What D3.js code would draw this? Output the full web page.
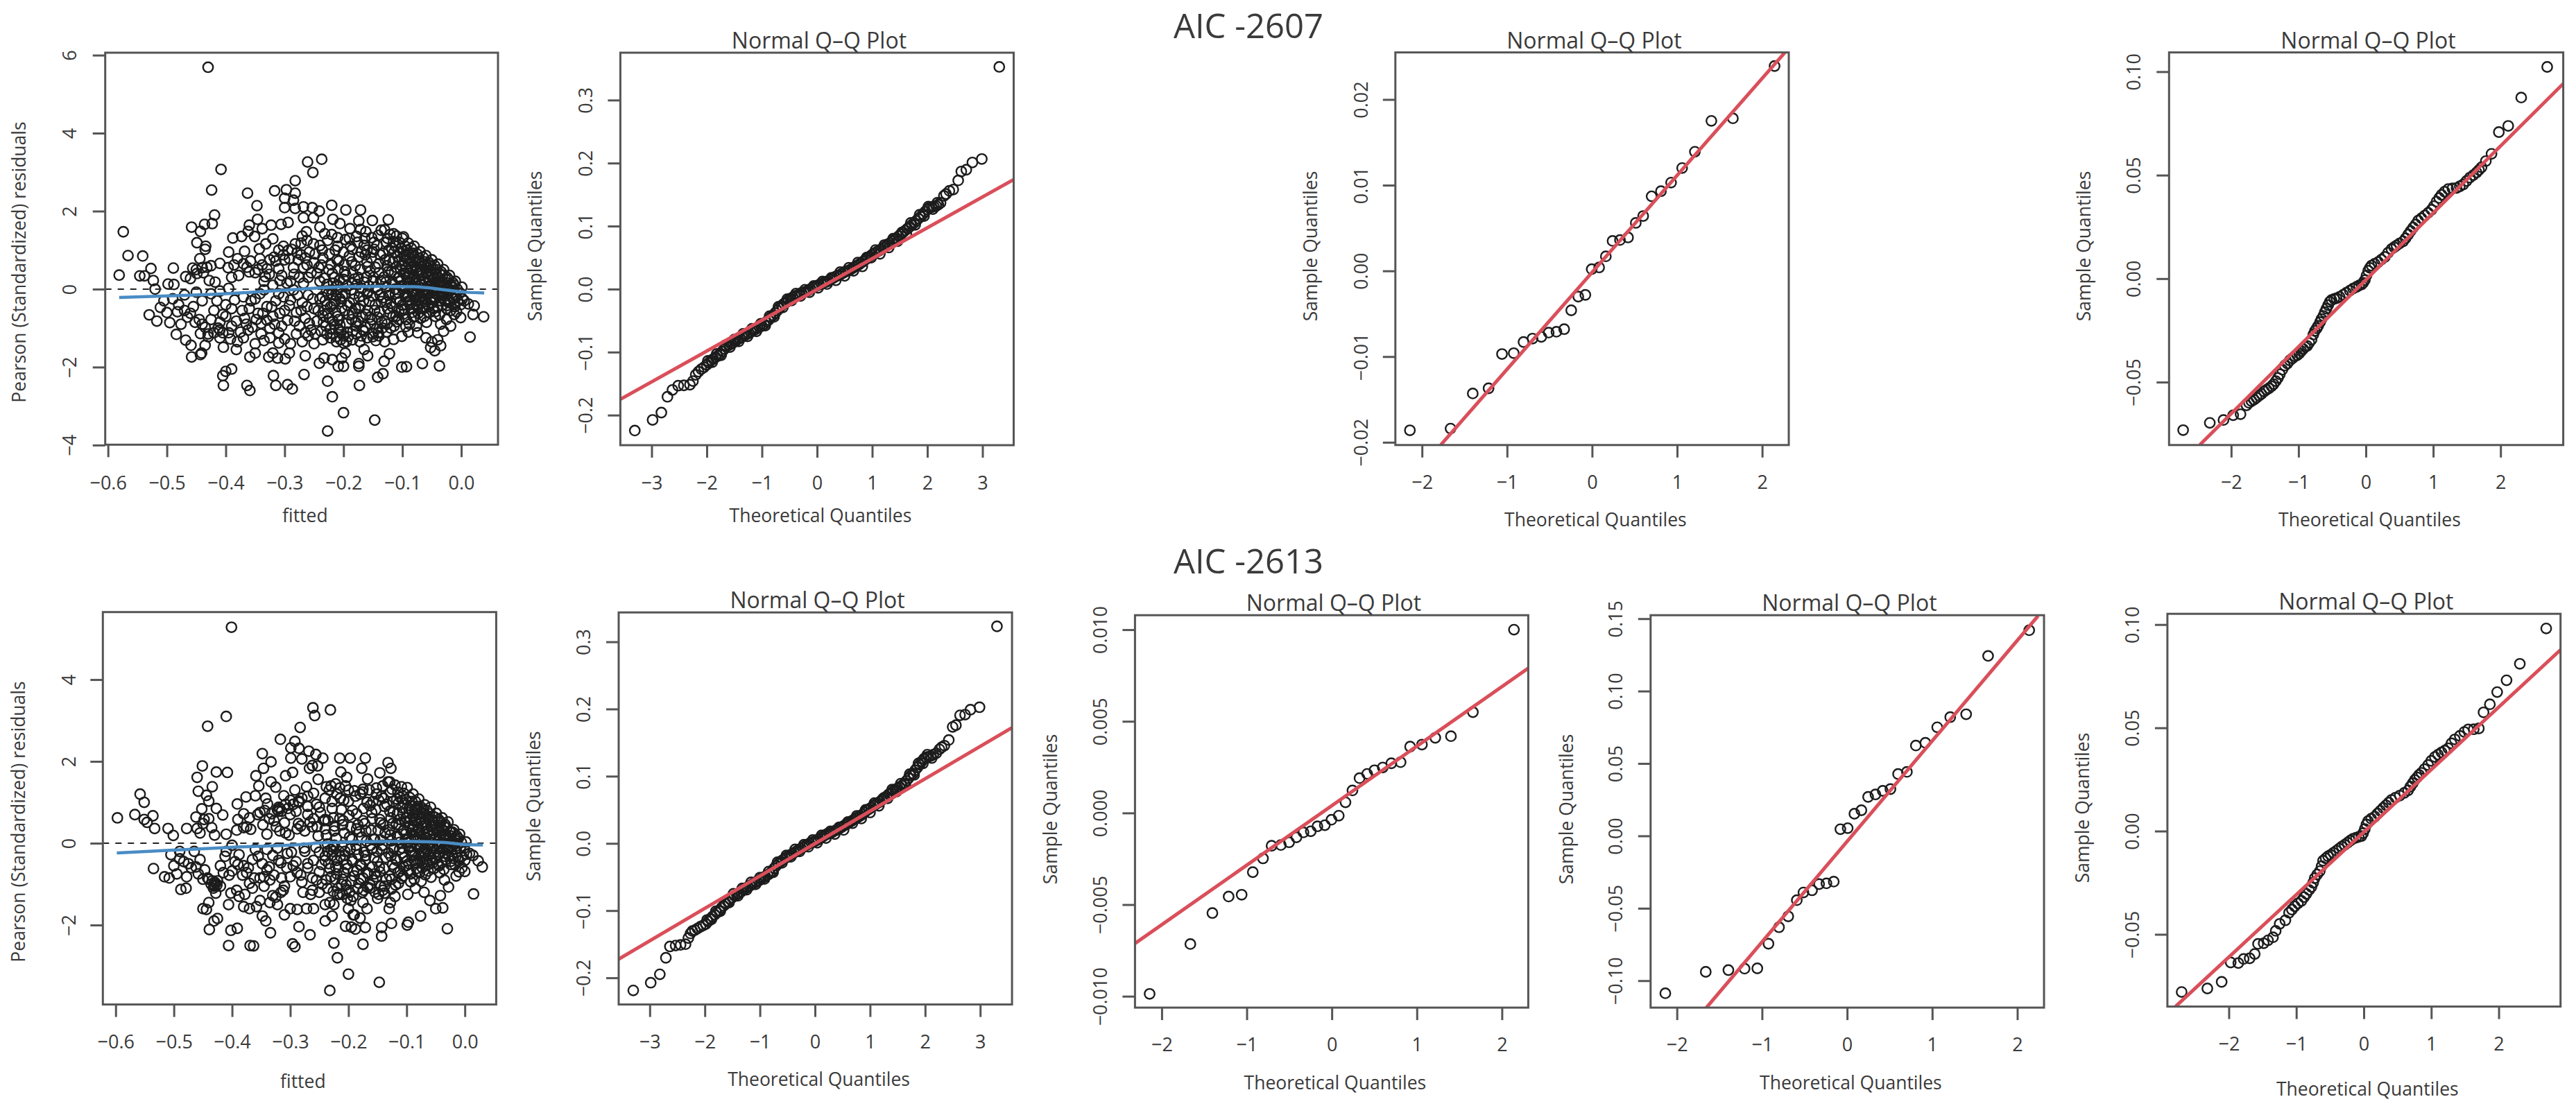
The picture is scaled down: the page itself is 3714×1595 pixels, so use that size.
<!DOCTYPE html>
<html>
<head>
<meta charset="utf-8">
<script src="https://cdn.jsdelivr.net/npm/d3@7"></script>
<style>
  body { margin: 0; background: #fff; }
  text { font-family: "Open Sans", sans-serif; fill: #3a3a3a; }
  .tick line, .domain { stroke: #555; }
</style>
</head>
<body>
<div id="chart"></div>
<script>
var residTop = [
-.43,5.69,-.237,3.33,-.261,3.26,-.252,2.99,-.408,3.07,-.282,2.78,-.424,2.54,-.317,2.52,-.297,2.55,-.282,2.46,-.363,2.46,-.3,2.33,-.285,2.28,-.347,2.14,-.3,2.09,-.282,2.07,-.268,2.11,-.253,2.09,-.241,2.0,-.22,2.15,-.196,2.03,-.171,2.03,-.419,1.9,-.346,1.79,-.268,1.83,-.251,1.83,-.218,1.79,-.174,1.75,-.151,1.76,-.124,1.78,-.458,1.59,-.436,1.66,-.423,1.68,-.36,1.64,-.323,1.64,-.306,1.66,-.294,1.71,-.574,1.47,-.443,1.48,-.362,1.48,-.338,1.55,-.24,1.59,-.206,1.68,-.189,1.55,-.171,1.53,-.162,1.47,-.136,1.51,-.263,1.47,-.388,1.31,-.373,1.35,-.351,1.35,-.32,1.29,-.27,1.36,-.449,1.19,-.434,1.10,-.332,1.16,-.282,1.16,-.251,1.16,-.227,1.25,-.197,1.27,-.115,1.42,-.098,1.34,-.435,1.02,-.395,.95,-.368,.97,-.343,1.03,-.294,.99,-.279,.93,-.258,.95,-.236,1.0,-.21,1.1,-.185,1.02,-.165,1.12,-.148,1.2,
-.566,.86,-.541,.85,-.581,.36,-.546,.34,-.538,.34,-.527,.53,-.523,.22,-.52,0,-.489,.54,-.498,.13,-.488,.12,-.468,.32,-.46,.27,-.456,.54,-.449,.4,-.444,.78,-.44,.55,-.432,.56,-.425,.6,-.418,.18,-.41,.66,-.396,.55,-.386,.62,-.38,.78,-.364,.56,-.36,.44,-.35,.42,-.345,.5,-.333,.32,-.33,.52,-.325,.75,-.315,.72,-.31,.52,-.3,.75,-.29,.2,-.285,.55,-.277,.75,-.265,.8,-.26,.3,-.25,.68,-.245,.4,-.235,.8,-.225,.5,-.215,.3,-.208,.72,-.198,.45,-.19,.85,-.18,.6,-.175,.3,-.17,.95,-.16,.7,-.155,.45,-.15,.95,-.14,.65,-.335,.2,-.32,.1,-.305,.35,-.296,.15,-.275,.3,-.268,.15,-.24,.2,-.228,.12,-.21,.1,-.2,.25,-.185,.15,-.165,.18,-.15,.2,
-.53,-.66,-.517,-.82,-.511,-.47,-.505,-.3,-.5,-.6,-.495,-.86,-.49,-.25,-.482,-.58,-.476,-.9,-.47,-.15,-.465,-.72,-.455,-.45,-.45,-.08,-.445,-.78,-.44,-.3,-.435,-.98,-.43,-1.15,-.425,-.12,-.42,-.55,-.413,-1.0,-.41,-.05,-.405,-.65,-.4,-.4,-.395,.02,-.39,-.95,-.385,-.28,-.375,-1.1,-.37,-.2,-.368,-.75,-.36,-.5,-.355,-.98,-.35,-.25,-.345,-.62,-.34,-.88,-.335,-.02,-.33,-.45,-.325,-1.0,-.32,-.7,-.315,-.3,-.31,-.12,-.305,-.95,-.3,-.55,-.295,-.8,-.29,-.28,-.285,-.02,-.28,-.6,-.275,-.95,-.27,-.35,-.265,-.75,-.26,-.15,-.255,-1.05,-.25,-.5,-.245,-.82,-.24,-.25,-.235,-.68,-.23,-.95,-.226,-.12,-.222,-.45,-.218,-1.15,-.214,-.3,-.21,-.7,-.206,-.92,-.202,-.18,-.198,-.55,-.194,-1.1,-.19,-.35,-.186,-.78,-.182,-.12,-.178,-.95,-.174,-.5,-.17,-1.2,-.166,-.3,-.162,-.65,-.158,-.05,-.154,-.9,-.15,-1.15,-.146,-.4,-.142,-.72,-.138,-.15,-.134,-1.0,-.22,-.02,-.212,-.18,-.204,-.32,-.228,-.4,-.236,-.2,-.232,-.55,-.224,-.75,-.216,-.9,-.208,-1.05,-.2,-1.2,
-.443,-1.14,-.43,-1.22,-.42,-1.12,-.41,-1.25,-.392,-1.28,-.38,-1.35,-.37,-1.25,-.35,-1.4,-.335,-1.32,-.31,-1.38,-.3,-1.28,-.29,-1.4,-.27,-1.35,-.26,-1.2,-.25,-1.4,-.235,-1.3,-.222,-1.25,-.212,-1.35,-.2,-1.38,-.185,-1.3,-.172,-1.35,-.16,-1.25,-.145,-1.32,-.13,-1.35,-.115,-1.29,-.101,-1.21,-.09,-1.1,-.074,-1.12,-.03,-1.08,-.06,-1.25,-.05,-1.35,-.04,-1.3,-.052,-1.5,-.045,-1.58,-.035,-1.45,
-.227,-3.64,-.147,-3.36,-.2,-3.17,-.219,-2.76,-.227,-2.36,-.173,-2.47,-.142,-2.26,-.133,-2.17,-.267,-2.19,-.287,-2.56,-.295,-2.45,-.315,-2.47,-.319,-2.22,-.359,-2.6,-.364,-2.47,-.404,-2.47,-.405,-2.22,-.4,-2.11,-.39,-2.05,-.174,-1.98,-.174,-1.91,-.101,-2.0,-.093,-1.99,-.066,-1.91,-.037,-1.97,-.2,-1.98,-.209,-1.98,-.241,-1.9,-.233,-1.77,-.219,-1.81,-.203,-1.77,-.265,-1.71,-.299,-1.79,-.312,-1.77,-.32,-1.64,-.327,-1.74,-.292,-1.64,-.359,-1.74,-.35,-1.64,-.441,-1.64,-.458,-1.74,-.443,-1.68,-.435,-1.44,-.459,-1.44,-.468,-1.31,-.484,-1.16,-.404,-1.49,-.382,-1.55,-.131,-1.85,-.122,-1.66,-.159,-1.71,-.165,-1.55,-.197,-1.64,
.015,-1.23,.038,-.71,.02,-.65,.022,-.43,-.001,-.73,-.018,-.95,.012,-.38,.005,-.3,-.008,-.58,-.025,-.78,-.035,-.9,-.012,-.65,
-.13,1.52,-.127,1.2,-.133,.92,-.126,.6,-.131,.31,-.128,.04,-.132,-.22,-.125,-.5,-.13,-.82,-.127,-1.1,-.121,1.4,-.118,1.05,-.122,.74,-.119,.44,-.117,.16,-.123,-.16,-.12,-.36,-.116,-.7,-.12,-1.0,-.11,1.36,-.112,1.1,-.108,.84,-.111,.56,-.107,.29,-.113,0,-.109,-.26,-.106,-.56,-.11,-.84,
-.1,1.3,-.102,1.04,-.097,.82,-.101,.6,-.096,.41,-.103,.2,-.099,0,-.095,-.2,-.1,-.41,-.098,-.64,-.094,-.96,-.09,1.18,-.092,1.0,-.087,.81,-.089,.66,-.086,.5,-.091,.31,-.088,.15,-.085,-.05,-.09,-.2,-.087,-.4,-.084,-.6,-.088,-.9,
-.08,1.1,-.082,.92,-.077,.75,-.079,.6,-.076,.46,-.081,.3,-.078,.14,-.075,0,-.08,-.16,-.077,-.3,-.074,-.46,-.079,-.7,-.076,-.95,-.07,.96,-.072,.8,-.067,.66,-.069,.5,-.066,.36,-.071,.2,-.068,.1,-.065,-.05,-.07,-.2,-.067,-.36,-.064,-.5,-.069,-.75,
-.06,.86,-.062,.7,-.057,.55,-.059,.41,-.056,.3,-.061,.15,-.058,0,-.055,-.11,-.06,-.25,-.057,-.4,-.054,-.6,-.059,-.85,-.05,.75,-.052,.61,-.047,.5,-.049,.35,-.046,.25,-.051,.1,-.048,-.05,-.045,-.2,-.05,-.35,-.047,-.5,-.044,-.7,
-.04,.64,-.042,.5,-.037,.4,-.039,.3,-.036,.16,-.041,0,-.038,-.15,-.035,-.3,-.04,-.45,-.037,-.66,-.03,.5,-.032,.36,-.027,.26,-.029,.1,-.026,0,-.031,-.15,-.028,-.3,-.025,-.5,-.02,.35,-.022,.25,-.017,.1,-.019,-.05,-.016,-.2,-.021,-.35,-.018,-.55,-.01,.2,-.012,.1,-.007,0,-.009,-.15,-.006,-.3,-.011,-.45,.001,.05,-.002,-.1,.002,-.25,-.001,-.4
];
// crowded middle of the top scatter
var residTopDense = [
-.238,.62,-.233,.28,-.229,-.05,-.231,-.3,-.226,-.62,-.234,-.85,-.224,.9,-.221,.62,-.219,.4,-.217,.15,-.22,-.14,-.216,-.38,-.213,-.6,-.218,-.82,-.222,-1.02,-.214,1.0,-.211,.75,-.209,.52,-.207,.22,-.21,-.02,-.206,-.25,-.203,-.48,-.208,-.78,-.204,-1.1,-.2,.95,-.199,.62,-.196,.36,-.194,.08,-.197,-.12,-.193,-.42,-.191,-.66,-.195,-.88,-.192,-1.22,-.188,1.1,-.186,.7,-.184,.42,-.181,.26,-.187,-.02,-.183,-.26,-.18,-.5,-.185,-.62,-.179,-.85,-.184,-1.08,-.176,1.2,-.174,.82,-.172,.5,-.177,.12,-.169,.02,-.173,-.2,-.171,-.42,-.168,-.7,-.175,-.82,-.167,-1.05,-.164,1.3,-.163,.88,-.159,.58,-.161,.3,-.157,.08,-.16,-.12,-.156,-.32,-.159,-.55,-.155,-.72,-.163,-.98,-.152,1.32,-.148,1.02,-.153,.8,-.146,.56,-.149,.3,-.145,.05,-.151,-.18,-.147,-.55,-.152,-.78,-.144,-1.02,-.141,1.38,-.143,1.12,-.138,.88,-.14,.42,-.137,.22,-.142,-.02,-.136,-.32,-.139,-.58,-.135,-.85,-.141,-1.12,
-.125,1.3,-.123,1.0,-.129,.75,-.124,.45,-.128,.18,-.122,-.08,-.127,-.34,-.121,-.62,-.126,-.9,-.115,1.22,-.114,.95,-.116,.7,-.113,.42,-.115,.12,-.112,-.12,-.117,-.45,-.111,-.7,-.114,-.95,-.105,1.2,-.104,.95,-.106,.7,-.103,.5,-.105,.3,-.102,.08,-.107,-.1,-.104,-.32,-.101,-.52,-.106,-.78,-.095,1.1,-.094,.9,-.096,.72,-.093,.55,-.095,.38,-.092,.22,-.097,.08,-.094,-.12,-.091,-.32,-.096,-.52,-.093,-.78,-.085,1.05,-.083,.88,-.086,.7,-.084,.56,-.087,.4,-.083,.25,-.085,.08,-.082,-.1,-.086,-.28,-.083,-.5,-.081,-.72,-.075,.9,-.073,.72,-.076,.56,-.074,.4,-.077,.24,-.073,.06,-.075,-.1,-.072,-.26,-.076,-.42,-.073,-.62,-.065,.82,-.063,.6,-.066,.44,-.064,.28,-.067,.12,-.063,-.03,-.065,-.16,-.062,-.32,-.066,-.48,-.063,-.7,-.055,.68,-.053,.48,-.056,.38,-.054,.22,-.052,.06,-.056,-.08,-.053,-.26,-.055,-.45,-.045,.6,-.043,.42,-.046,.3,-.044,.16,-.047,.02,-.043,-.12,-.046,-.28,-.044,-.58,-.034,.44,-.033,.2,-.035,.06,-.032,-.08,-.034,-.22,-.033,-.42,-.024,.3,-.025,.16,-.023,.02,-.024,-.12,-.022,-.28,-.024,-.42,-.014,.16,-.015,.04,-.013,-.08,-.014,-.24,-.012,-.38,
-.48,-.4,-.47,-.55,-.46,-.62,-.452,-.85,-.44,-.9,-.425,-.78,-.415,-.3,-.41,-.85,-.4,-.7,-.39,-.5,-.382,-.82,-.372,-.55,-.365,-.9,-.357,-.3,-.348,-.78,-.342,-.12,-.337,-.62,-.33,-.8,-.322,-.45,-.317,-.9,-.308,-.62,-.302,-.2,-.292,-.42,-.283,-.82,-.278,-.15,-.272,-.55,-.262,-.45,-.258,-.88,-.252,-.25,-.243,-.55,-.45,.5,-.438,.42,-.428,.22,-.39,.3,-.378,.35,-.37,.65,-.358,.72,-.342,.78,-.338,.62,-.326,.38,-.318,.82,-.308,.22,-.302,.88,-.292,.78,-.284,.38,-.272,.88,-.268,.55,-.255,.42,-.248,.9,-.242,.55,-.262,.62,-.31,1.0,-.302,1.1,-.288,1.02,-.272,1.18,-.262,1.25,-.24,1.12,-.232,1.42,-.22,1.4,-.21,1.32,-.19,1.3,-.178,1.35,-.16,1.0,-.28,-1.15,-.265,-1.12,-.248,-1.15,-.238,-1.08,-.228,-1.15,-.212,-1.22,-.205,-1.3,-.195,-1.35,-.178,-1.15,-.165,-1.08,-.15,-1.22,-.14,-1.2,-.34,-1.15,-.325,-1.25,-.31,-1.12,-.395,-1.12,-.405,-1.12,-.362,-1.05,-.41,-1.05
];
var smoothTop = [-.581,-.215,-.49,-.17,-.402,-.12,-.303,-.034,-.227,.043,-.139,.07,-.08,.06,-.028,-.017,0,-.07,.039,-.1];

// residual scatter, bottom row
var residBot = [
-.401,5.28,-.261,3.31,-.231,3.26,-.258,3.12,-.41,3.1,-.442,2.86,-.283,2.83,-.317,2.54,-.292,2.49,-.299,2.33,-.285,2.32,-.348,2.19,-.268,2.25,-.256,2.17,-.333,1.99,-.299,2.08,-.28,2.06,-.244,2.08,-.215,2.08,-.197,2.08,-.171,2.08,-.451,1.89,-.262,1.9,-.253,1.89,-.132,1.97,-.346,1.83,-.267,1.83,-.177,1.83,-.127,1.83,-.427,1.74,-.408,1.73,-.296,1.73,-.213,1.74,-.146,1.72,-.46,1.61,-.359,1.65,-.308,1.65,-.203,1.61,-.167,1.57,-.333,1.5,-.252,1.56,-.129,1.5,-.354,1.4,-.325,1.37,-.434,1.38,-.272,1.38,-.238,1.38,-.458,1.27,-.558,1.2,-.444,1.17,-.376,1.13,-.36,1.16,-.342,1.1,-.311,1.16,-.292,1.3,-.551,1.0,-.44,1.03,-.391,.96,-.339,.96,-.286,1.03,-.597,.62,-.567,.7,-.551,.58,-.546,.51,-.536,.67,-.533,.36,-.51,.36,-.501,.19,-.478,.36,-.452,.84,-.427,.85,-.416,.69,-.462,.64,
-.46,.36,-.455,.25,-.448,.58,-.44,.6,-.435,.38,-.41,.22,-.39,.58,-.38,.72,-.375,.4,-.368,.34,-.352,.75,-.347,.45,-.34,.22,-.332,.72,-.32,.88,-.315,.78,-.31,.5,-.3,.7,-.295,.95,-.288,.35,-.28,1.1,-.27,.7,-.262,.4,-.255,.95,-.248,.75,-.24,.35,-.233,1.3,-.228,.85,-.22,1.2,-.215,.6,-.208,1.05,-.2,1.3,-.193,.8,-.186,.35,-.18,1.2,-.175,.55,-.168,1.0,-.16,.75,-.152,1.2,-.145,.5,-.14,1.1,-.328,.55,-.318,.3,-.302,.2,-.275,.3,-.252,.18,-.235,.55,-.225,.3,-.21,.45,-.198,.15,-.17,.3,-.155,.1,
-.535,-.62,-.516,-.82,-.508,-.85,-.505,-.28,-.5,-.55,-.495,-.75,-.49,-.2,-.483,-.45,-.478,-.82,-.488,-1.13,-.479,-1.1,-.47,-.6,-.465,-.2,-.458,-.75,-.455,-.4,-.447,-.65,-.44,-.88,-.436,-1.0,-.43,-1.02,-.425,-.92,-.432,-1.1,-.428,-1.22,-.42,-.55,-.415,-.72,-.405,-.78,-.41,-.2,-.4,-.05,-.395,-.45,-.388,-.28,-.38,-.55,-.375,-.72,-.37,-.98,-.365,-.4,-.36,-.15,-.352,-.85,-.348,-.5,-.34,-.65,-.335,-.9,-.33,-.3,-.322,-.12,-.316,-.48,-.31,-1.05,-.305,-.25,-.3,-.82,-.295,-.55,-.288,-.72,-.28,-.95,-.275,-.2,-.27,-.5,-.262,-.85,-.256,-.1,-.25,-.7,-.245,-1.0,-.24,-.42,-.236,-.2,-.23,-.82,-.226,-.1,-.222,-.58,-.218,-1.1,-.214,-.32,-.21,-.88,-.206,-.2,-.202,-.62,-.198,-1.2,-.194,-.4,-.19,-.8,-.186,-.15,-.182,-.98,-.178,-.55,-.174,-1.15,-.17,-.3,-.166,-.75,-.162,-.05,-.158,-.9,-.154,-1.2,-.15,-.45,-.146,-.7,-.142,-.15,-.138,-1.05,-.228,-.3,-.234,-.5,-.23,-.15,-.224,-.05,-.216,-.2,-.208,-.4,-.22,-.75,-.212,-1.0,-.204,-1.15,
-.44,-1.45,-.45,-1.6,-.444,-1.62,-.42,-1.05,-.406,-1.5,-.402,-1.22,-.388,-1.3,-.378,-1.25,-.38,-1.55,-.37,-1.6,-.358,-1.55,-.352,-1.4,-.348,-1.78,-.342,-1.9,-.335,-1.45,-.322,-1.5,-.316,-1.2,-.31,-1.75,-.3,-1.6,-.288,-1.62,-.272,-1.6,-.265,-1.25,-.26,-1.6,-.24,-1.5,-.232,-1.45,-.225,-1.5,-.215,-1.25,-.2,-1.6,-.19,-1.75,-.175,-1.45,-.168,-1.6,-.15,-1.35,-.13,-1.6,-.128,-1.45,-.12,-1.3,-.098,-1.25,-.085,-1.1,-.07,-1.2,-.06,-1.4,-.05,-1.6,-.042,-1.28,-.038,-1.58,
-.232,-3.6,-.147,-3.4,-.2,-3.2,-.219,-2.8,-.225,-2.44,-.175,-2.47,-.143,-2.27,-.143,-2.06,-.296,-2.46,-.292,-2.53,-.369,-2.5,-.363,-2.51,-.406,-2.5,-.402,-2.13,-.391,-2.08,-.439,-2.11,-.431,-1.9,-.425,-1.84,-.334,-2.19,-.285,-2.04,-.266,-2.24,-.171,-2.06,-.126,-1.96,-.099,-2.0,-.097,-1.93,-.076,-1.78,-.03,-2.09,-.205,-2.03,-.195,-2.05,-.188,-2.1,-.24,-1.9,-.228,-1.78,-.18,-1.83,-.192,-1.75,
.015,-1.24,0,-.69,.03,-.58,.023,-.43,.014,-.3,-.028,-1.07,.008,-.25,-.005,-.6,-.015,-.8,-.035,-.9,-.01,-.7,
-.132,1.5,-.128,1.25,-.134,.95,-.127,.62,-.13,.33,-.126,.06,-.131,-.24,-.124,-.52,-.129,-.8,-.126,-1.12,-.12,1.42,-.117,1.08,-.123,.76,-.118,.46,-.116,.18,-.122,-.14,-.119,-.38,-.115,-.72,-.119,-1.02,-.109,1.38,-.111,1.12,-.107,.86,-.112,.58,-.106,.3,-.112,.02,-.108,-.24,-.105,-.58,-.109,-.86,
-.099,1.36,-.101,1.06,-.096,.84,-.1,.62,-.095,.42,-.102,.22,-.098,.02,-.094,-.18,-.099,-.43,-.097,-.66,-.093,-.94,-.089,1.2,-.091,1.02,-.086,.83,-.088,.68,-.085,.52,-.09,.33,-.087,.17,-.084,-.03,-.089,-.22,-.086,-.42,-.083,-.62,-.087,-.88,
-.079,1.08,-.081,.9,-.076,.76,-.078,.62,-.075,.48,-.08,.32,-.077,.16,-.074,.02,-.079,-.14,-.076,-.32,-.073,-.48,-.078,-.72,-.075,-.93,-.069,.94,-.071,.82,-.066,.68,-.068,.52,-.065,.38,-.07,.22,-.067,.12,-.064,-.03,-.069,-.22,-.066,-.38,-.063,-.52,-.068,-.77,
-.059,.88,-.061,.72,-.056,.57,-.058,.43,-.055,.32,-.06,.17,-.057,.02,-.054,-.13,-.059,-.27,-.056,-.42,-.053,-.62,-.058,-.83,-.049,.73,-.051,.63,-.046,.52,-.048,.37,-.045,.27,-.05,.12,-.047,-.03,-.044,-.22,-.049,-.37,-.046,-.52,-.043,-.72,
-.039,.62,-.041,.52,-.036,.42,-.038,.32,-.035,.18,-.04,.02,-.037,-.13,-.034,-.32,-.039,-.47,-.036,-.64,-.029,.52,-.031,.38,-.026,.28,-.028,.12,-.025,.02,-.03,-.13,-.027,-.32,-.024,-.52,-.019,.33,-.021,.27,-.016,.12,-.018,-.03,-.015,-.22,-.02,-.37,-.017,-.53,-.009,.22,-.011,.12,-.006,.02,-.008,-.13,-.005,-.32,-.01,-.43,.002,.03,-.001,-.12,.003,-.27,0,-.42
];
// crowded middle of the bottom scatter
var residBotDense = [
-.242,.55,-.238,.2,-.236,-.02,-.24,-.32,-.232,-.62,-.238,-.9,-.228,1.02,-.226,.62,-.224,.42,-.221,.12,-.226,-.2,-.22,-.42,-.217,-.6,-.223,-.88,-.219,-1.25,-.214,1.1,-.212,.82,-.209,.55,-.207,.25,-.211,-.06,-.206,-.3,-.203,-.52,-.208,-.72,-.204,-1.02,-.2,1.02,-.199,.68,-.196,.4,-.194,.1,-.197,-.14,-.193,-.45,-.191,-.68,-.195,-.92,-.192,-1.3,-.188,1.15,-.186,.72,-.184,.45,-.181,.28,-.187,-.05,-.183,-.28,-.18,-.52,-.185,-.66,-.179,-.88,-.184,-1.12,-.176,1.25,-.174,.85,-.172,.48,-.177,.15,-.169,.05,-.173,-.22,-.171,-.4,-.168,-.72,-.175,-.85,-.167,-1.08,-.164,1.3,-.163,.92,-.159,.6,-.161,.32,-.157,.1,-.16,-.15,-.156,-.35,-.159,-.58,-.155,-.75,-.163,-1.02,-.152,1.35,-.148,1.05,-.153,.82,-.146,.58,-.149,.32,-.145,.08,-.151,-.2,-.147,-.58,-.152,-.82,-.144,-1.05,-.141,1.4,-.143,1.15,-.138,.9,-.14,.45,-.137,.25,-.142,-.05,-.136,-.35,-.139,-.62,-.135,-.88,-.141,-1.15,
-.125,1.32,-.123,1.02,-.129,.78,-.124,.48,-.128,.2,-.122,-.1,-.127,-.32,-.121,-.6,-.126,-.88,-.115,1.25,-.114,.98,-.116,.72,-.113,.45,-.115,.15,-.112,-.15,-.117,-.42,-.111,-.68,-.114,-.98,-.105,1.22,-.104,.98,-.106,.72,-.103,.52,-.105,.32,-.102,.1,-.107,-.12,-.104,-.35,-.101,-.55,-.106,-.8,-.095,1.12,-.094,.92,-.096,.75,-.093,.58,-.095,.4,-.092,.25,-.097,.1,-.094,-.1,-.091,-.3,-.096,-.5,-.093,-.75,-.085,1.02,-.083,.85,-.086,.72,-.084,.58,-.087,.42,-.083,.28,-.085,.1,-.082,-.08,-.086,-.3,-.083,-.48,-.081,-.7,-.075,.88,-.073,.74,-.076,.58,-.074,.42,-.077,.26,-.073,.08,-.075,-.08,-.072,-.24,-.076,-.44,-.073,-.6,-.065,.8,-.063,.62,-.066,.46,-.064,.3,-.067,.14,-.063,-.05,-.065,-.18,-.062,-.3,-.066,-.46,-.063,-.68,-.055,.66,-.053,.5,-.056,.4,-.054,.24,-.052,.08,-.056,-.1,-.053,-.24,-.055,-.48,-.045,.58,-.043,.44,-.046,.32,-.044,.18,-.047,.04,-.043,-.1,-.046,-.3,-.044,-.55,-.034,.46,-.033,.22,-.035,.08,-.032,-.06,-.034,-.24,-.033,-.4,-.024,.28,-.025,.18,-.023,.04,-.024,-.1,-.022,-.3,-.024,-.44,-.014,.18,-.015,.06,-.013,-.06,-.014,-.22,-.012,-.36,
-.49,-.38,-.475,-.5,-.462,-.58,-.45,-.88,-.442,-.85,-.43,-.95,-.426,-1.02,-.434,-.92,-.428,-.98,-.431,-1.05,-.412,-.32,-.4,-.68,-.39,-.52,-.382,-.78,-.372,-.6,-.362,-.85,-.355,-.32,-.345,-.82,-.34,-.15,-.336,-.58,-.328,-.78,-.32,-.42,-.315,-.85,-.306,-.6,-.298,-.22,-.29,-.45,-.282,-.78,-.276,-.12,-.27,-.6,-.26,-.42,-.255,-.9,-.25,-.22,-.246,-.52,-.45,.48,-.43,.2,-.392,.32,-.38,.38,-.37,.62,-.356,.7,-.344,.8,-.336,.6,-.324,.4,-.32,.78,-.322,.82,-.318,.85,-.308,.25,-.304,.85,-.29,.78,-.282,.42,-.286,.48,-.27,.9,-.266,.52,-.254,.4,-.25,.88,-.24,.58,-.26,.6,-.308,.95,-.3,1.05,-.285,1.0,-.27,1.15,-.26,1.22,-.24,1.1,-.23,1.4,-.222,1.45,-.215,1.35,-.205,1.4,-.19,1.28,-.175,1.32,-.158,1.02,-.278,-1.2,-.262,-1.15,-.25,-1.2,-.236,-1.1,-.226,-1.18,-.21,-1.25,-.202,-1.35,-.196,-1.4,-.176,-1.2,-.163,-1.1,-.148,-1.25,-.138,-1.22,-.33,-1.28,-.325,-1.32,-.312,-1.15,-.392,-1.15,-.345,-1.05,-.365,-1.1
];
var smoothBot = [-.598,-.24,-.502,-.17,-.401,-.1,-.295,-.04,-.235,.017,-.146,.043,-.087,.043,-.034,.017,.002,-.034,.031,-.043];

// sample quantiles, long Q-Q plots
var qqTopB = [-3.305,-.2245,-2.982,-.2076,-2.823,-.196,-2.713,-.1709,-2.622,-.16,-2.518,-.1533,-2.415,-.1528,-2.305,-.1517,-2.25,-.146,-2.2,-.136,-2.15,-.131,-2.1,-.127,-2.05,-.124,-2,-.12,-1.96,-.117,-1.92,-.113,-1.88,-.111,-1.84,-.108,-1.8,-.106,-1.76,-.103,-1.72,-.099,-1.68,-.095,-1.64,-.091,-1.6,-.089,-1.56,-.087,-1.52,-.085,-1.48,-.083,-1.44,-.08,-1.4,-.078,-1.36,-.076,-1.32,-.074,-1.28,-.072,-1.24,-.07,-1.2,-.068,-1.16,-.066,-1.12,-.064,-1.08,-.062,-1.04,-.06,-1,-.0586,-.96,-.056,-.92,-.052,-.88,-.049,-.84,-.045,-.8,-.042,-.76,-.038,-.72,-.034,-.68,-.03,-.64,-.026,-.6,-.023,-.56,-.021,-.52,-.018,-.48,-.015,-.44,-.013,-.4,-.011,-.36,-.01,-.32,-.008,-.28,-.006,-.24,-.005,-.2,-.004,-.16,-.002,-.12,0,-.08,.002,-.04,.004,0,.0055,.04,.007,.08,.008,.12,.01,.16,.011,.2,.0126,.24,.015,.28,.017,.32,.019,.36,.021,.4,.022,.44,.024,.48,.026,.52,.028,.56,.029,.6,.0307,.64,.033,.68,.035,.72,.037,.76,.039,.8,.0416,.84,.044,.88,.047,.92,.05,.96,.052,1,.0548,1.04,.057,1.08,.059,1.12,.061,1.16,.063,1.2,.0657,1.24,.068,1.28,.071,1.32,.073,1.36,.076,1.4,.0783,1.44,.081,1.48,.084,1.52,.087,1.56,.09,1.6,.0931,1.64,.096,1.68,.099,1.72,.102,1.76,.105,1.8,.1084,1.84,.112,1.88,.115,1.92,.119,1.96,.123,2,.1265,2.04,.129,2.08,.13,2.12,.131,2.16,.132,2.2,.134,2.24,.137,2.3,.148,2.34,.151,2.4,.156,2.47,.158,2.56,.1725,2.616,.1867,2.707,.1895,2.817,.201,2.988,.2065,3.305,.3527,
-1.98,-.114,-1.9,-.116,-1.82,-.103,-1.74,-.105,-1.66,-.089,-1.58,-.092,-1.5,-.08,-1.42,-.083,-1.34,-.071,-1.26,-.075,-1.18,-.063,-1.1,-.067,-1.02,-.055,-.94,-.058,-.86,-.043,-.78,-.044,-.7,-.028,-.62,-.029,-.54,-.016,-.46,-.018,-.38,-.007,-.3,-.011,-.22,-.001,-.14,-.005,-.06,.005,.02,.002,.1,.012,.18,.008,.26,.018,.34,.014,.42,.027,.5,.021,.58,.034,.66,.029,.74,.042,.82,.036,.9,.05,.98,.05,1.06,.062,1.14,.056,1.22,.07,1.3,.066,1.38,.08,1.46,.076,1.54,.09,1.62,.087,1.7,.105,1.78,.102,1.86,.118,1.94,.116,2.02,.131,2.1,.127,2.18,.137];
var qqBotB = [-3.299,-.2188,-2.982,-.2073,-2.817,-.1948,-2.707,-.1702,-2.634,-.1534,-2.53,-.152,-2.44,-.151,-2.35,-.15,-2.299,-.1408,-2.26,-.134,-2.226,-.1304,-2.18,-.129,-2.134,-.1267,-2.08,-.124,-2.03,-.122,-1.982,-.1199,-1.94,-.116,-1.9,-.112,-1.86,-.109,-1.82,-.106,-1.78,-.103,-1.74,-.1,-1.7,-.096,-1.66,-.093,-1.62,-.09,-1.58,-.087,-1.54,-.083,-1.5,-.0806,-1.46,-.078,-1.42,-.076,-1.38,-.074,-1.34,-.072,-1.3,-.069,-1.26,-.067,-1.22,-.065,-1.18,-.063,-1.14,-.061,-1.1,-.059,-1.06,-.057,-1.02,-.0555,-.98,-.053,-.94,-.051,-.9,-.049,-.86,-.047,-.82,-.045,-.78,-.042,-.74,-.037,-.7,-.033,-.66,-.03,-.62,-.027,-.58,-.0245,-.54,-.022,-.5,-.02,-.46,-.018,-.42,-.016,-.38,-.014,-.34,-.012,-.3,-.01,-.26,-.008,-.22,-.006,-.18,-.004,-.14,-.002,-.1,0,-.06,.0015,-.02,.0025,.02,.004,.06,.006,.1,.008,.14,.01,.18,.012,.22,.014,.26,.015,.3,.016,.34,.018,.38,.0195,.42,.021,.46,.023,.5,.025,.54,.027,.58,.029,.62,.031,.66,.033,.7,.035,.74,.037,.78,.039,.82,.041,.86,.043,.9,.046,.94,.049,.98,.051,1.02,.053,1.06,.056,1.1,.058,1.14,.06,1.18,.062,1.22,.065,1.26,.068,1.3,.07,1.34,.073,1.38,.075,1.42,.078,1.46,.08,1.5,.082,1.54,.084,1.58,.086,1.62,.089,1.66,.093,1.7,.097,1.74,.101,1.78,.104,1.82,.109,1.86,.113,1.9,.117,1.94,.122,1.98,.126,2.02,.128,2.06,.129,2.1,.13,2.15,.132,2.2,.134,2.26,.14,2.3,.143,2.35,.1455,2.43,.1539,2.5,.1733,2.56,.176,2.634,.1906,2.726,.1916,2.823,.199,2.988,.2026,3.305,.323,
-1.96,-.114,-1.88,-.113,-1.8,-.101,-1.72,-.101,-1.64,-.088,-1.56,-.088,-1.48,-.075,-1.4,-.078,-1.32,-.067,-1.24,-.069,-1.16,-.058,-1.08,-.061,-1,-.051,-.92,-.053,-.84,-.042,-.76,-.043,-.68,-.028,-.6,-.029,-.52,-.018,-.44,-.02,-.36,-.009,-.28,-.012,-.2,-.002,-.12,-.005,-.04,.005,.04,.001,.12,.012,.2,.008,.28,.018,.36,.014,.44,.024,.52,.02,.6,.032,.68,.03,.76,.041,.84,.037,.92,.05,1,.046,1.08,.06,1.16,.056,1.24,.067,1.32,.067,1.4,.08,1.48,.077,1.56,.089,1.64,.087,1.72,.103,1.8,.102,1.88,.119,1.96,.119,2.04,.132,2.12,.127];

// short Q-Q plots
var qqTopC = [-2.142,-.0186,-1.664,-.0184,-1.403,-.0143,-1.217,-.0137,-1.059,-.0097,-.921,-.0096,-.806,-.0083,-.7,-.0079,-.597,-.0077,-.51,-.0072,-.419,-.0071,-.328,-.0068,-.245,-.0046,-.162,-.003,-.079,-.0028,-.004,.0002,.083,.0004,.162,.0017,.241,.0035,.328,.0036,.423,.0039,.514,.0056,.601,.0064,.7,.0087,.81,.0093,.929,.0103,1.059,.012,1.209,.0139,1.403,.0175,1.656,.0178,2.146,.0239];
var qqBotC = [-2.142,-.00987,-1.663,-.00715,-1.404,-.00546,-1.213,-.00456,-1.06,-.00446,-.929,-.00323,-.809,-.00248,-.708,-.00179,-.599,-.00175,-.502,-.0016,-.416,-.00133,-.333,-.00106,-.247,-.001,-.169,-.00073,-.082,-.00067,-.004,-.00037,.082,-.00015,.161,.00058,.243,.00123,.326,.0019,.416,.00213,.502,.00233,.599,.00248,.7,.00271,.809,.00277,.921,.00362,1.06,.00373,1.217,.0041,1.401,.00419,1.659,.0055,2.142,.01];
var qqBotD = [-2.136,-.1087,-1.661,-.0939,-1.395,-.0927,-1.205,-.0917,-1.055,-.0915,-.924,-.0745,-.8,-.0631,-.692,-.0556,-.591,-.0444,-.513,-.0391,-.412,-.0376,-.329,-.0333,-.243,-.0328,-.157,-.0316,-.079,.0046,.007,.0053,.086,.0153,.168,.0177,.247,.0269,.333,.0286,.419,.0311,.509,.0323,.599,.0427,.703,.0442,.808,.0624,.92,.0643,1.059,.075,1.212,.082,1.399,.084,1.657,.1243,2.14,.142];

// medium Q-Q plots
var qqTopD = [-2.713,-.0732,-2.317,-.0697,-2.114,-.0683,-1.97,-.066,-1.861,-.0655,-1.772,-.0612,-1.735,-.06,-1.698,-.0592,-1.66,-.0585,-1.624,-.0575,-1.585,-.0565,-1.55,-.0557,-1.51,-.0545,-1.475,-.0537,-1.44,-.053,-1.401,-.052,-1.37,-.051,-1.337,-.0495,-1.305,-.048,-1.277,-.0462,-1.24,-.044,-1.203,-.042,-1.165,-.041,-1.129,-.0395,-1.09,-.0385,-1.054,-.0375,-1.02,-.037,-.99,-.0362,-.96,-.035,-.931,-.034,-.9,-.033,-.871,-.0325,-.84,-.031,-.807,-.0295,-.78,-.027,-.757,-.0253,-.73,-.024,-.708,-.0228,-.68,-.021,-.658,-.0195,-.63,-.018,-.609,-.0162,-.585,-.0145,-.559,-.0128,-.535,-.0112,-.51,-.0103,-.47,-.0098,-.436,-.0095,-.39,-.0088,-.337,-.0078,-.29,-.0068,-.238,-.0058,-.19,-.0048,-.139,-.004,-.1,-.0033,-.064,-.0028,-.04,-.002,-.015,-.0007,.01,.0015,.035,.0038,.06,.0052,.084,.0063,.13,.0072,.183,.008,.23,.0092,.282,.0105,.33,.0125,.381,.0143,.42,.0152,.455,.016,.5,.017,.554,.018,.59,.0195,.629,.0213,.665,.023,.703,.0247,.74,.0262,.777,.028,.825,.0292,.876,.0305,.925,.0318,.975,.0333,1.01,.035,1.05,.0372,1.09,.039,1.124,.0405,1.17,.042,1.223,.0433,1.285,.0436,1.347,.0438,1.395,.0446,1.446,.0455,1.495,.0472,1.545,.0488,1.595,.05,1.644,.0513,1.68,.0525,1.718,.0538,1.782,.0568,1.866,.0603,1.975,.0708,2.114,.0738,2.307,.0875,2.693,.1023];
var qqBotE = [-2.699,-.0779,-2.318,-.0762,-2.106,-.073,-1.972,-.0636,-1.859,-.0639,-1.78,-.0619,-1.691,-.0616,-1.616,-.0595,-1.567,-.0546,-1.483,-.0543,-1.419,-.0529,-1.345,-.0514,-1.305,-.0483,-1.246,-.0449,-1.162,-.0432,-1.107,-.0395,-1.065,-.038,-1.023,-.0364,-.975,-.035,-.924,-.0338,-.885,-.032,-.85,-.0304,-.81,-.0285,-.776,-.027,-.75,-.025,-.727,-.0228,-.69,-.021,-.652,-.0194,-.625,-.017,-.603,-.0143,-.565,-.0132,-.529,-.0122,-.49,-.0115,-.45,-.0105,-.405,-.0095,-.365,-.0085,-.325,-.0075,-.282,-.0066,-.24,-.0056,-.2,-.0046,-.158,-.0037,-.115,-.0032,-.075,-.0028,-.035,-.0024,-.01,-.001,.015,.001,.04,.0032,.064,.0048,.11,.006,.163,.007,.205,.0085,.245,.0098,.287,.0112,.33,.0125,.37,.0138,.41,.0151,.47,.0162,.534,.0172,.6,.0185,.657,.0197,.69,.0215,.725,.0232,.756,.0248,.79,.026,.82,.0272,.855,.0282,.9,.03,.954,.032,1,.034,1.053,.0359,1.1,.037,1.152,.0381,1.2,.039,1.251,.0401,1.3,.0425,1.349,.0444,1.424,.0461,1.49,.048,1.547,.0492,1.63,.0493,1.705,.0497,1.775,.0575,1.869,.0614,1.977,.0673,2.116,.073,2.313,.081,2.704,.0981];

// red reference lines, two ends of each
var lineTopB = [-3.567,-.175,3.567,.174];
var lineTopC = [-1.779,-.0203,2.313,.026];
var lineTopD = [-2.465,-.0803,2.931,.0942];
var lineBotB = [-3.561,-.172,3.573,.172];
var lineBotC = [-2.315,-.00712,2.311,.0079];
var lineBotD = [-1.657,-.1189,2.245,.152];
var lineBotE = [-2.788,-.0849,2.917,.0878];

// tick labels
var fittedTicks = [-.6,-.5,-.4,-.3,-.2,-.1,0];
var theoLong = [-3,-2,-1,0,1,2,3];
var theoShort = [-2,-1,0,1,2];
var residTicksTop = [-4,-2,0,2,4,6];
var residTicksBot = [-2,0,2,4];
var sampTicksB = [-.2,-.1,0,.1,.2,.3];
var sampTicksC1 = [-.02,-.01,0,.01,.02];
var sampTicksD = [-.05,0,.05,.1];
var sampTicksC2 = [-.01,-.005,0,.005,.01];
var sampTicksD2 = [-.1,-.05,0,.05,.1,.15];

var headers = ["AIC -2607", "AIC -2613"];

// panel layout: box is left,right,top,bottom in pixels
var panels = [
  {box:[151.7,718,76,641.3], xd:[-.6047,.0624], yd:[6.063,-3.99], xt:fittedTicks, yt:residTicksTop, fx:".1f", fy:"d", pts:residTop.concat(residTopDense), smooth:smoothTop, xlab:"fitted", ylab:"Pearson (Standardized) residuals", tickY:696.6, labY:742.6, tickX:99.5, labX:27.4, labCy:378},
  {box:[894.4,1461.5,76,642], xd:[-3.567,3.566], yd:[.3752,-.2477], xt:theoLong, yt:sampTicksB, fx:"d", fy:".1f", pts:qqTopB, line:lineTopB, tickY:696.5, labY:743, tickX:843, labX:771, labCy:355},
  {box:[2011.8,2579,75.6,641.8], xd:[-2.313,2.313], yd:[.02549,-.02032], xt:theoShort, yt:sampTicksC1, fx:"d", fy:".2f", pts:qqTopC, line:lineTopC, tickY:695.5, labY:749, tickX:1961, labX:1888.7, labCy:355},
  {box:[3127.3,3695.6,75.6,641.8], xd:[-2.922,2.931], yd:[.1093,-.0804], xt:theoShort, yt:sampTicksD, fx:"d", fy:".2f", pts:qqTopD, line:lineTopD, tickY:695.5, labY:749, tickX:3075.4, labX:3004, labCy:355},
  {box:[148.3,715.4,882.7,1448.6], xd:[-.622,.0539], yd:[5.65,-3.942], xt:fittedTicks, yt:residTicksBot, fx:".1f", fy:"d", pts:residBot.concat(residBotDense), smooth:smoothBot, xlab:"fitted", ylab:"Pearson (Standardized) residuals", tickY:1503, labY:1559, tickX:98, labX:25.9, labCy:1185},
  {box:[892,1459.1,883.2,1448.6], xd:[-3.564,3.578], yd:[.3437,-.2397], xt:theoLong, yt:sampTicksB, fx:"d", fy:".1f", pts:qqBotB, line:lineBotB, tickY:1503, labY:1555.6, tickX:840.6, labX:768.7, labCy:1162.6},
  {box:[1636.4,2203.4,887.2,1453.1], xd:[-2.314,2.31], yd:[.01079,-.01062], xt:theoShort, yt:sampTicksC2, fx:"d", fy:".3f", pts:qqBotC, line:lineBotC, tickY:1507, labY:1560.7, tickX:1585, labX:1513.8, labCy:1167},
  {box:[2379.8,2947,887.2,1453.1], xd:[-2.309,2.314], yd:[.1524,-.1186], xt:theoShort, yt:sampTicksD2, fx:"d", fy:".2f", pts:qqBotD, line:lineBotD, tickY:1507, labY:1560.7, tickX:2328, labX:2257.6, labCy:1167},
  {box:[3124.9,3691.7,885.2,1451.6], xd:[-2.91,2.916], yd:[.1052,-.08496], xt:theoShort, yt:sampTicksD, fx:"d", fy:".2f", pts:qqBotE, line:lineBotE, tickY:1505.9, labY:1569.8, tickX:3073, labX:3002, labCy:1165}
];

var width = 3714;
var height = 1595;
var fontSize = 27;

var svg = d3.select("#chart").append("svg")
  .attr("width", width)
  .attr("height", height);

// flat x,y,x,y list to pairs
function toPairs(a) {
  return d3.range(0, a.length, 2).map(function(i) { return [a[i], a[i + 1]]; });
}

function minusFormat(spec) {
  var f = d3.format(spec);
  return function(v) { return f(v).replace("-", "\u2212"); };
}

panels.forEach(function(p, idx) {
  var left = p.box[0], right = p.box[1], top = p.box[2], bottom = p.box[3];
  var x = d3.scaleLinear().domain(p.xd).range([left, right]);
  var y = d3.scaleLinear().domain(p.yd).range([top, bottom]);
  var g = svg.append("g");

  var clipId = "clip" + idx;
  svg.append("clipPath").attr("id", clipId).append("rect")
    .attr("x", left).attr("y", top).attr("width", right - left).attr("height", bottom - top);

  // points
  g.append("g").selectAll("circle").data(toPairs(p.pts)).enter().append("circle")
    .attr("cx", function(d) { return x(d[0]); })
    .attr("cy", function(d) { return y(d[1]); })
    .attr("r", 7.2)
    .attr("fill", "none")
    .attr("stroke", "#1c1c1c")
    .attr("stroke-width", 2.4);

  // dashed zero line + smoother on the residual plots
  if (p.smooth) {
    g.append("line")
      .attr("x1", left).attr("x2", right)
      .attr("y1", y(0)).attr("y2", y(0))
      .attr("stroke", "#222").attr("stroke-width", 2).attr("stroke-dasharray", "9 9");
    var curve = d3.line().curve(d3.curveMonotoneX)
      .x(function(d) { return x(d[0]); })
      .y(function(d) { return y(d[1]); });
    g.append("path").attr("d", curve(toPairs(p.smooth)))
      .attr("fill", "none").attr("stroke", "#4a8cc4").attr("stroke-width", 4.5);
  }

  // qq reference line
  if (p.line) {
    g.append("line").attr("clip-path", "url(#" + clipId + ")")
      .attr("x1", x(p.line[0])).attr("y1", y(p.line[1]))
      .attr("x2", x(p.line[2])).attr("y2", y(p.line[3]))
      .attr("stroke", "#d94f5a").attr("stroke-width", 5);
  }

  g.append("rect")
    .attr("x", left).attr("y", top).attr("width", right - left).attr("height", bottom - top)
    .attr("fill", "none").attr("stroke", "#555").attr("stroke-width", 3);

  // axes
  var xAxis = d3.axisBottom(x).tickValues(p.xt).tickSize(18).tickFormat(minusFormat(p.fx));
  var xG = g.append("g").attr("transform", "translate(0," + bottom + ")").call(xAxis);
  xG.select(".domain").remove();
  xG.selectAll("line").attr("stroke-width", 3);
  xG.selectAll("text")
    .attr("y", p.tickY - bottom).attr("dy", ".35em")
    .style("font-size", fontSize + "px");

  var yAxis = d3.axisLeft(y).tickValues(p.yt).tickSize(18).tickFormat(minusFormat(p.fy));
  var yG = g.append("g").attr("transform", "translate(" + left + ",0)").call(yAxis);
  yG.select(".domain").remove();
  yG.selectAll("line").attr("stroke-width", 3);
  yG.selectAll("text")
    .attr("x", null).attr("dy", null)
    .attr("text-anchor", "middle")
    .attr("dominant-baseline", "central")
    .attr("transform", "translate(" + (p.tickX - left) + ",0) rotate(-90)")
    .style("font-size", fontSize + "px");

  // axis titles
  g.append("text")
    .attr("x", (left + right) / 2 + 5).attr("y", p.labY)
    .attr("text-anchor", "middle").attr("dominant-baseline", "central")
    .style("font-size", "26.5px")
    .text(p.xlab || "Theoretical Quantiles");

  g.append("text")
    .attr("transform", "translate(" + p.labX + "," + p.labCy + ") rotate(-90)")
    .attr("text-anchor", "middle").attr("dominant-baseline", "central")
    .style("font-size", "26.5px")
    .text(p.ylab || "Sample Quantiles");

  if (!p.smooth) {
    g.append("text")
      .attr("x", (left + right) / 2 + 3).attr("y", top - 6)
      .attr("text-anchor", "middle")
      .style("font-size", "32px")
      .text("Normal Q\u2013Q Plot");
  }
});

// row headers
headers.forEach(function(t, i) {
  svg.append("text")
    .attr("x", 1800).attr("y", i === 0 ? 55 : 827)
    .attr("text-anchor", "middle")
    .style("font-size", "49px")
    .text(t);
});
</script>
</body>
</html>
